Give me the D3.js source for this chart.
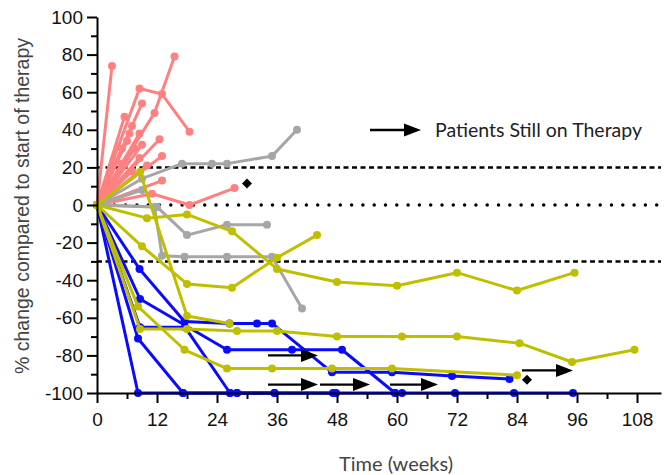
<!DOCTYPE html>
<html><head><meta charset="utf-8">
<script src="https://cdn.jsdelivr.net/npm/d3@7"></script>
<style>body{margin:0;background:#fff}svg{display:block}</style>
</head><body><svg id="c" width="665" height="475"></svg>
<script>
// ---- data ----
const xTicks = [0, 12, 24, 36, 48, 60, 72, 84, 96, 108];
const xMinorTicks = [6, 18, 30, 42, 54, 66, 78, 90, 102];
const yTicks = [-100, -80, -60, -40, -20, 0, 20, 40, 60, 80, 100];
const yMinorTicks = [-90, -70, -50, -30, -10, 10, 30, 50, 70, 90];
const dashedLevels = [20, -30];
const dottedLevels = [0];

const redPatients = [
  [[0,0],[3,74]],
  [[0,0],[8.5,62],[13,59],[18.5,39]],
  [[0,0],[11.5,49],[15.5,79]],
  [[0,0],[9,54]],
  [[0,0],[5.5,47]],
  [[0,0],[7,42]],
  [[0,0],[6.5,38]],
  [[0,0],[6,34]],
  [[0,0],[5,30]],
  [[0,0],[7.5,30]],
  [[0,0],[8.5,38]],
  [[0,0],[12.5,35]],
  [[0,0],[9,32]],
  [[0,0],[8.5,25]],
  [[0,0],[13,26]],
  [[0,0],[5,22]],
  [[0,0],[7,18]],
  [[0,0],[10,21]],
  [[0,0],[13,13]],
  [[0,0],[11,6],[18.5,0],[27.5,9]]
];
const grayPatients = [
  [[0,0],[9,14],[17,22],[23,22],[26,22],[35,26],[40,40]],
  [[0,0],[9,8]],
  [[0,0],[12,-1],[18,-16],[26,-10.5],[34,-10.5]],
  [[0,0],[11.5,-1],[13,-27],[17.5,-27.5],[26,-27.5],[35,-27.5],[41,-55]]
];
const bluePatients = [
  [[0,0],[8.5,-34],[17.5,-62],[26.5,-63],[32,-63],[35,-63],[47,-89],[59,-89],[71,-91],[82.5,-92.5]],
  [[0,0],[8.6,-50],[26,-77],[39,-77],[49,-77],[59.6,-100],[61,-100]],
  [[0,0],[8.2,-71],[17.2,-100],[26.6,-100],[35.5,-100]],
  [[0,0],[8.6,-65],[17.6,-65],[26.6,-100],[28,-100],[47.8,-100]],
  [[0,0],[8.2,-100],[17.2,-100],[28,-100],[35.5,-100],[47.2,-100],[59.6,-100],[71.6,-100],[83.4,-100],[95.2,-100]]
];
const yellowPatients = [
  [[0,0],[10,-7],[18,-5],[27,-14],[36,-34],[48,-41],[60,-43],[72,-36],[84,-45.5],[95.5,-36]],
  [[0,0],[9,-22],[18,-42],[27,-44],[36,-28],[44,-16]],
  [[0,0],[8.6,17.5],[18,-59],[26.5,-63]],
  [[0,0],[8.6,-66],[18,-66],[28,-67],[36,-67],[48,-70],[61,-70],[72,-70],[84.5,-73.5],[95,-83.5],[107.5,-77]],
  [[0,0],[8.2,-54],[17.5,-77],[26,-87],[35,-87],[47,-87],[59,-87],[84,-90.5]]
];
// still-on-therapy arrows: [startWeek, value, endWeek]
const therapyArrows = [
  [34.2,-80,44.2],[34.2,-95.5,44.2],[44.6,-95.5,54.6],[58.6,-95.5,68.2],[85,-88,95.2]
];
const diamonds = [[30,11.5],[86,-93]];
const legendLabel = "Patients Still on Therapy";
const xTitle = "Time (weeks)";
const yTitle = "% change compared to start of therapy";

// ---- drawing ----
const svg = d3.select("#c");
const x = d3.scaleLinear().domain([0,112.8]).range([97,661]);
const y = d3.scaleLinear().domain([-100,100]).range([393,17]);
const tickFont = "'Liberation Sans', Arial, sans-serif";
const titleFont = "Lato, 'Open Sans', sans-serif";

// reference lines
const refG = svg.append("g");
refG.selectAll("line.dash").data(dashedLevels).join("line")
  .attr("x1",x(0)).attr("x2",x(112.8)).attr("y1",d=>y(d)).attr("y2",d=>y(d))
  .attr("stroke","#000").attr("stroke-width",2.5).attr("stroke-dasharray","5,3.5");
refG.selectAll("line.dot").data(dottedLevels).join("line")
  .attr("x1",x(0)+6).attr("x2",x(112.8)).attr("y1",d=>y(d)).attr("y2",d=>y(d))
  .attr("stroke","#000").attr("stroke-width",3.5).attr("stroke-linecap","round")
  .attr("stroke-dasharray","0,11.3");

const line = d3.line().x(d=>x(d[0])).y(d=>y(d[1]));
function drawGroup(data, color){
  const g = svg.append("g");
  data.forEach(p=>{
    g.append("path").attr("d",line(p)).attr("fill","none").attr("stroke",color)
      .attr("stroke-width",3).attr("stroke-linejoin","round");
    g.selectAll(null).data(p).join("circle").attr("cx",d=>x(d[0])).attr("cy",d=>y(d[1]))
      .attr("r",4).attr("fill",color);
  });
}
drawGroup(redPatients, "#ff8080");
drawGroup(grayPatients, "#a6a6a6");
drawGroup(bluePatients, "#0a0aff");
drawGroup(yellowPatients, "#bfbf00");

// arrows
function arrow(g, x1, x2, yy){
  g.append("line").attr("x1",x1).attr("x2",x2-14).attr("y1",yy).attr("y2",yy)
    .attr("stroke","#000").attr("stroke-width",2.3);
  g.append("path").attr("d",`M${x2},${yy}L${x2-17},${yy-6.5}L${x2-17},${yy+6.5}Z`).attr("fill","#000");
}
const arrG = svg.append("g");
therapyArrows.forEach(a=>arrow(arrG, x(a[0]), x(a[2]), y(a[1])));
svg.append("g").selectAll("path").data(diamonds).join("path")
  .attr("transform",d=>`translate(${x(d[0])},${y(d[1])})`)
  .attr("d","M0,-5L5,0L0,5L-5,0Z").attr("fill","#000");

// axes
svg.append("g").attr("transform",`translate(${x(0)},0)`)
  .call(d3.axisLeft(y).tickValues(yTicks).tickSize(10).tickPadding(4).tickSizeOuter(0).tickFormat(d=>String(d)));
svg.append("g").attr("transform",`translate(${x(0)},0)`)
  .call(d3.axisLeft(y).tickValues(yMinorTicks).tickSize(6).tickFormat("")).select(".domain").remove();
svg.append("g").attr("transform",`translate(0,${y(-100)})`)
  .call(d3.axisBottom(x).tickValues(xTicks).tickSize(10).tickPadding(10).tickSizeOuter(0).tickFormat(d=>String(d)));
svg.append("g").attr("transform",`translate(0,${y(-100)})`)
  .call(d3.axisBottom(x).tickValues(xMinorTicks).tickSize(6).tickFormat("")).select(".domain").remove();
svg.selectAll(".domain").attr("stroke-width",2);
svg.selectAll(".tick line").attr("stroke-width",2);
svg.selectAll(".tick text").attr("font-family",tickFont).attr("font-size",19).attr("fill","#111");

svg.append("text").attr("x",396).attr("y",471).attr("text-anchor","middle")
  .attr("font-family",titleFont).attr("font-size",20).attr("fill","#444").text(xTitle);
svg.append("text").attr("transform","translate(29,206) rotate(-90)").attr("text-anchor","middle")
  .attr("font-family",tickFont).attr("font-size",19.5).attr("fill","#444").text(yTitle);

// legend
const legG = svg.append("g");
arrow(legG, 370, 421, 130);
legG.append("text").attr("x",435).attr("y",137).attr("font-family",titleFont)
  .attr("font-size",19.5).attr("fill","#222").text(legendLabel);
</script></body></html>
